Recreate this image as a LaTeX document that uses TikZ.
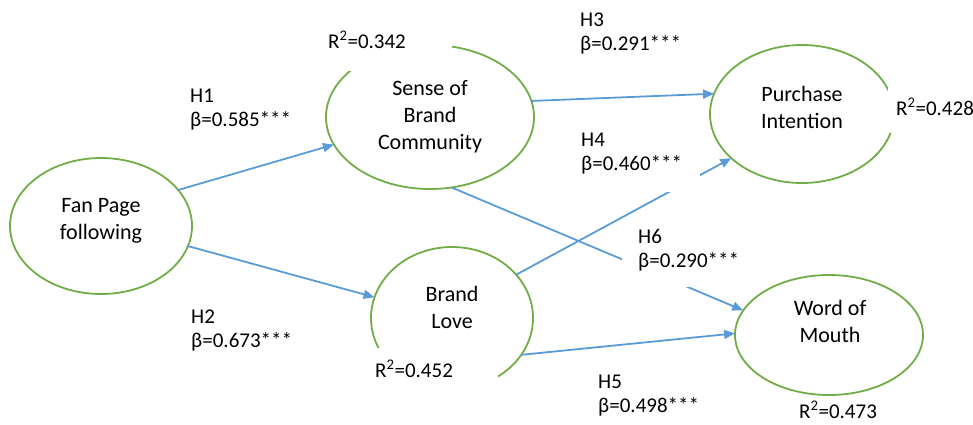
\documentclass[tikz,border=0pt]{standalone}
\usepackage{fontspec}
\setmainfont{Carlito}
\usetikzlibrary{arrows.meta,shapes.geometric}
\definecolor{egreen}{HTML}{70AD47}
\definecolor{ablue}{HTML}{5B9BD5}
\begin{document}
\begin{tikzpicture}[x=1pt,y=-1pt,
  cons/.style={draw=egreen, line width=1.8pt, ellipse, inner sep=0pt, outer sep=0pt},
  ctext/.style={align=center, inner sep=0pt, font=\fontsize{22}{27}\selectfont},
  ltext/.style={anchor=base west, inner sep=0pt, font=\fontsize{21}{24}\selectfont},
  arr/.style={draw=ablue, line width=1.8pt, -{Triangle[length=11pt,width=9pt]}},
  blank/.style={fill=white}]
\useasboundingbox (0,0) rectangle (973,424);
% constructs
\node[cons, minimum width=182pt, minimum height=136pt] (fp) at (101,226) {};
\node[cons, minimum width=208pt, minimum height=144pt] (sbc) at (430,117) {};
\node[cons, minimum width=184pt, minimum height=138pt] (pi) at (802,114) {};
\node[cons, minimum width=162pt, minimum height=142pt] (bl) at (452,318) {};
\node[cons, minimum width=188pt, minimum height=120pt] (wom) at (829,335) {};
% paths
\draw[arr] (fp.25) -- (sbc.196);
\draw[arr] (fp.347) -- (bl.165);
\draw[arr] (sbc.9) -- (pi.167);
\draw[arr] (bl.34) -- (pi.212);
\draw[arr] (sbc.287) -- (wom.164);
\draw[arr] (bl.332) -- (wom.179);
% white label boxes
\fill[blank] (322,25) rectangle (452,71);
\fill[blank] (888,82) rectangle (973,133);
\fill[blank] (368,348) rectangle (498,400);
\fill[blank] (575,128) rectangle (700,192);
\fill[blank] (622,225) rectangle (762,287);
% construct texts
\node[ctext] (fpt) at (101,221) {Fan Page\\following};
\node[ctext] (sbct) at (430,117) {Sense of\\Brand\\Community};
\node[ctext] (pit) at (802,107) {Purchase\\Intention};
\node[ctext] (blt) at (452,307) {Brand\\Love};
\node[ctext] (womt) at (830,321) {Word of\\Mouth};
% labels
\node[ltext] (r1) at (328,48) {R\textsuperscript{2}=0.342};
\node[ltext] (r2) at (896,115) {R\textsuperscript{2}=0.428};
\node[ltext] (r3) at (375,377) {R\textsuperscript{2}=0.452};
\node[ltext] (r4) at (799,418) {R\textsuperscript{2}=0.473};
\node[ltext] (h1a) at (190,102) {H1};
\node[ltext] (h1b) at (190,126) {β=0.585***};
\node[ltext] (h2a) at (191,323) {H2};
\node[ltext] (h2b) at (191,347) {β=0.673***};
\node[ltext] (h3a) at (580,26) {H3};
\node[ltext] (h3b) at (580,50) {β=0.291***};
\node[ltext] (h4a) at (581,146) {H4};
\node[ltext] (h4b) at (581,170) {β=0.460***};
\node[ltext] (h6a) at (638,243) {H6};
\node[ltext] (h6b) at (638,267) {β=0.290***};
\node[ltext] (h5a) at (598,388) {H5};
\node[ltext] (h5b) at (598,412) {β=0.498***};
\end{tikzpicture}
\end{document}
